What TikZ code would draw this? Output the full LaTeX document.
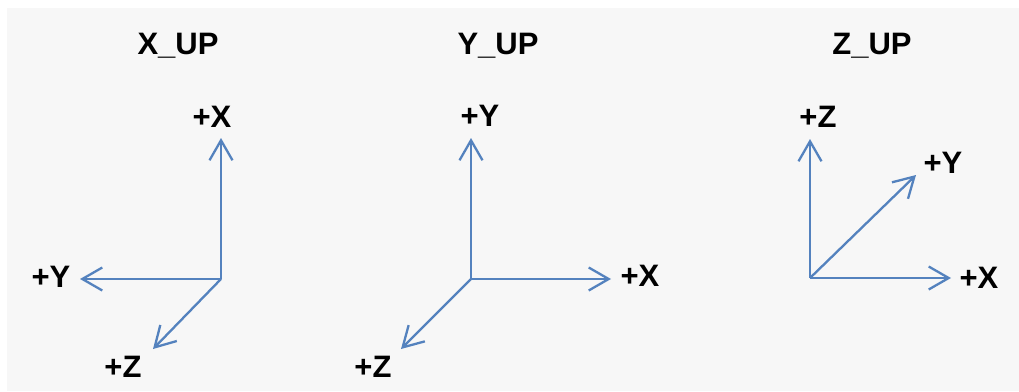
\documentclass[tikz,border=0pt]{standalone}
\usepackage{fontspec}
\setmainfont{Liberation Sans}
\usetikzlibrary{arrows.meta}
\definecolor{axisblue}{RGB}{84,130,190}
\definecolor{bggray}{RGB}{247,247,247}
\tikzset{
  axis/.style={draw=axisblue, line width=2.3pt, -{Straight Barb[length=20pt,width=23pt,line width=2.3pt]}},
  lbl/.style={anchor=base, inner sep=0pt, font=\fontsize{31}{37}\selectfont\bfseries},
  ttl/.style={anchor=base, inner sep=0pt, font=\fontsize{31}{37}\selectfont\bfseries}
}
\begin{document}
\begin{tikzpicture}[x=1pt,y=-1pt]
\useasboundingbox (0,0) rectangle (1019,391);
\fill[white] (0,0) rectangle (1019,391);
\fill[bggray] (7,8) rectangle (1019,391);
% X_UP
\node[ttl] (t1) at (178,54) {X\_UP};
\coordinate (o1) at (221,279);
\coordinate (x1) at (221,138);
\coordinate (y1) at (80,279);
\coordinate (z1) at (153,349);
\draw[axis] (o1) -- (x1);
\draw[axis] (o1) -- (y1);
\draw[axis] (o1) -- (z1);
\node[lbl] (lx1) at (212,127) {+X};
\node[lbl] (ly1) at (51,287) {+Y};
\node[lbl] (lz1) at (123,377) {+Z};
% Y_UP
\node[ttl] (t2) at (498,54) {Y\_UP};
\coordinate (o2) at (471,279);
\coordinate (y2) at (471,138);
\coordinate (x2) at (611,279);
\coordinate (z2) at (401,349);
\draw[axis] (o2) -- (y2);
\draw[axis] (o2) -- (x2);
\draw[axis] (o2) -- (z2);
\node[lbl] (ly2) at (480,126) {+Y};
\node[lbl] (lx2) at (640,286) {+X};
\node[lbl] (lz2) at (373,377) {+Z};
% Z_UP
\node[ttl] (t3) at (872,54) {Z\_UP};
\coordinate (o3) at (810,278);
\coordinate (z3) at (810,139);
\coordinate (y3) at (916,175);
\coordinate (x3) at (951,278);
\draw[axis] (o3) -- (z3);
\draw[axis] (o3) -- (y3);
\draw[axis] (o3) -- (x3);
\node[lbl] (lz3) at (818,127) {+Z};
\node[lbl] (ly3) at (943,173) {+Y};
\node[lbl] (lx3) at (979,288) {+X};
\end{tikzpicture}
\end{document}
